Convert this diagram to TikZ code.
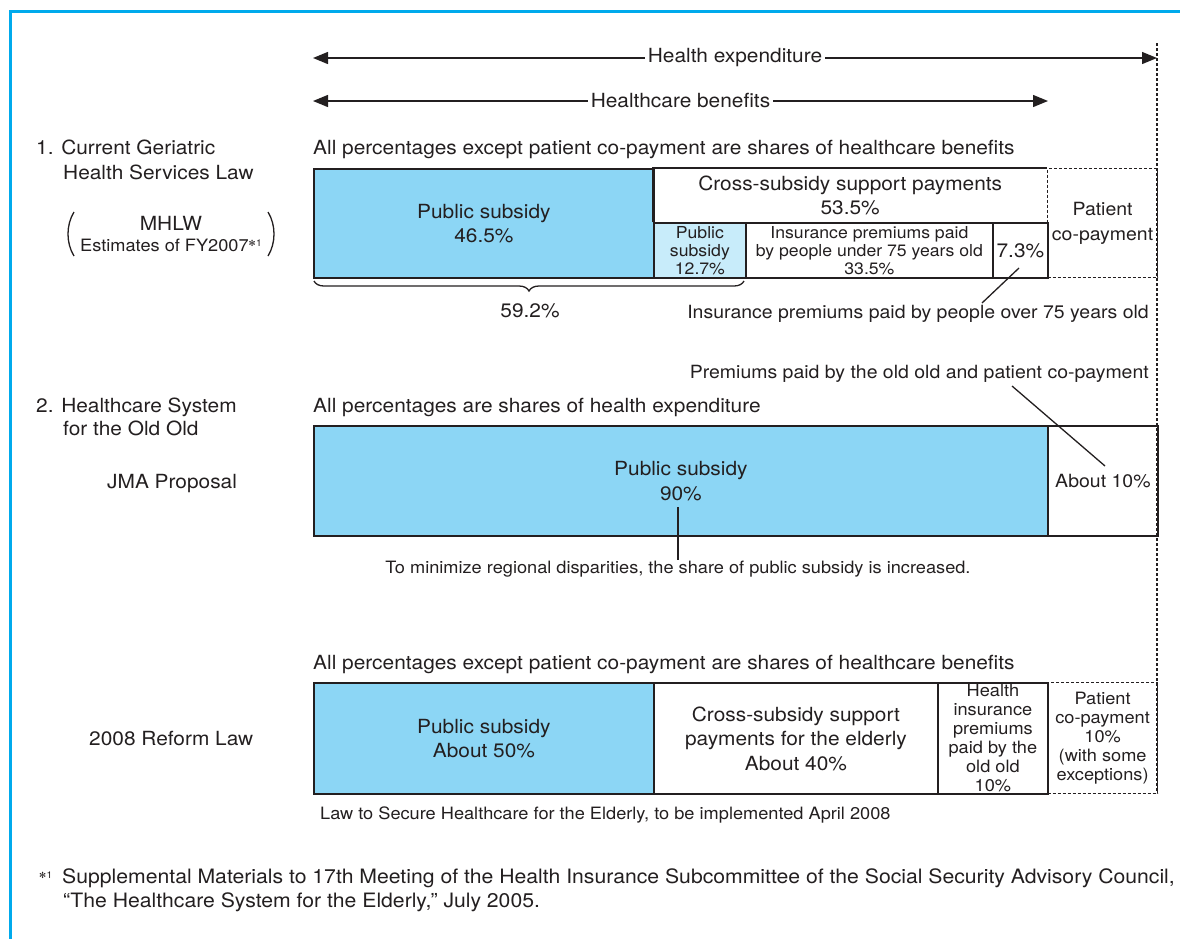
\documentclass[tikz,border=0pt]{standalone}
\usepackage{fontspec}
\setmainfont{TeX Gyre Heros}[FakeStretch=1.07]
\newfontfamily\symfont{DejaVu Sans}
\usetikzlibrary{arrows.meta,decorations.pathreplacing}
\definecolor{frameblue}{RGB}{0,170,236}
\definecolor{subsidy}{RGB}{140,214,245}
\definecolor{subsidylight}{RGB}{200,236,250}
\definecolor{ink}{RGB}{35,31,32}
\newcommand\fsA{\fontsize{19.5}{24.5}\selectfont}
\newcommand\fsB{\fontsize{16.5}{18}\selectfont}
\newcommand\fsC{\fontsize{17}{19}\selectfont}
\newcommand\fsD{\fontsize{18.2}{24.5}\selectfont}
\newcommand\noteref{\raisebox{5pt}{{\symfont\fontsize{8.5}{9}\selectfont ✻}\kern0.3pt{\fontsize{9.5}{9}\selectfont 1}}}
\begin{document}
\begin{tikzpicture}[x=1pt,y=-1pt,
  every node/.style={text=ink, inner sep=0pt, font=\fsA},
  bar/.style={draw=ink, line width=1.8pt, anchor=north west, align=center, inner sep=0pt},
  dashbar/.style={draw=ink, line width=1.2pt, dash pattern=on 3pt off 2pt, anchor=north west, align=center, inner sep=0pt},
  label/.style={anchor=base west},
  dimarrow/.style={draw=ink, line width=1.3pt, {Triangle[length=15pt,width=12pt]}-{Triangle[length=15pt,width=12pt]}},
  leader/.style={draw=ink, line width=1.3pt},
  guide/.style={draw=ink, line width=1.3pt, dash pattern=on 3pt off 2pt}]

\useasboundingbox (0,0) rectangle (1180,938);

% outer frame
\draw[frameblue, line width=3pt] (10,945) -- (10,11.5) -- (1190,11.5);

% dimension arrows
\coordinate (heL) at (313,58);
\coordinate (heR) at (1157,58);
\coordinate (hbL) at (313,101);
\coordinate (hbR) at (1048,101);
\draw[dimarrow] (heL) -- (heR) node[midway, fill=white, inner xsep=3pt, inner ysep=2pt] (helab) {Health expenditure};
\draw[dimarrow] (hbL) -- (hbR) node[midway, fill=white, inner xsep=3pt, inner ysep=2pt] (hblab) {Healthcare benefits};

% dotted right guide
\coordinate (gTop) at (1157,43);
\coordinate (gBot) at (1157,793);
\draw[guide] (gTop) -- (gBot);

% ---------- 1. Current Geriatric Health Services Law ----------
\node[label] (t1a) at (36,154) {1. Current Geriatric};
\node[label] (t1b) at (63,179) {Health Services Law};
\node[anchor=base] (mhlw) at (171,230) {MHLW};
\node[anchor=base] (est) at (171,251) {\fsC Estimates of FY2007\noteref};
\draw[leader] (74,212) .. controls (66,225) and (66,243) .. (74,256);
\draw[leader] (268,212) .. controls (276,225) and (276,243) .. (268,256);

\node[label] (cap1) at (313,154) {All percentages except patient co-payment are shares of healthcare benefits};

\node[dashbar, minimum width=110pt, minimum height=109pt, font=\fsD] (pc1) at (1047,168) {Patient\\co-payment};
\node[bar, fill=subsidy, minimum width=340pt, minimum height=109pt] (ps1) at (313,168) {Public subsidy\\46.5\%};
\node[anchor=north west, align=center, minimum width=394pt, minimum height=54pt] (cs1) at (653,168) {Cross-subsidy support payments\\53.5\%};
\draw[ink, line width=1.8pt] (cs1.south west) -- (cs1.north west) -- (cs1.north east);
\node[bar, fill=subsidylight, minimum width=92pt, minimum height=55pt, font=\fsB] (ps2) at (653,222) {Public\\subsidy\\12.7\%};
\node[bar, minimum width=247pt, minimum height=55pt, font=\fsB] (ip1) at (745,222) {Insurance premiums paid\\by people under 75 years old\\33.5\%};
\node[bar, minimum width=55pt, minimum height=55pt] (p73) at (992,222) {7.3\%};

\coordinate (brL) at (314,281);
\coordinate (brR) at (744,281);
\draw[ink, line width=1.3pt, decorate, decoration={brace, mirror, amplitude=10pt}] (brL) -- (brR);
\node[anchor=base] (sum1) at (530,317) {59.2\%};

\node[anchor=base east, font=\fsD] (over75) at (1149,318) {Insurance premiums paid by people over 75 years old};
\coordinate (l1a) at (1019,268);
\coordinate (l1b) at (982,303);
\draw[leader] (l1a) -- (l1b);

% ---------- 2. Healthcare System for the Old Old ----------
\node[anchor=base east, font=\fsD] (prem) at (1149,378) {Premiums paid by the old old and patient co-payment};
\node[label] (t2a) at (36,412) {2. Healthcare System};
\node[label] (t2b) at (63,435) {for the Old Old};
\node[label] (jma) at (107,488) {JMA Proposal};
\node[label] (cap2) at (313,412) {All percentages are shares of health expenditure};

\node[bar, fill=subsidy, minimum width=734pt, minimum height=110pt] (ps90) at (313,425) {Public subsidy\\90\%};
\node[bar, minimum width=110pt, minimum height=110pt, font=\fsD] (ab10) at (1047,425) {About 10\%};
\coordinate (l2a) at (1012,386);
\coordinate (l2b) at (1105,466);
\draw[leader] (l2a) -- (l2b);

\node[anchor=base, font=\fsC] (tomin) at (678,573) {To minimize regional disparities, the share of public subsidy is increased.};
\coordinate (l3a) at (678,507);
\draw[leader] (l3a) -- (l3a |- tomin.north);

% ---------- 2008 Reform Law ----------
\node[label] (cap3) at (313,669) {All percentages except patient co-payment are shares of healthcare benefits};
\node[label] (ref) at (89,745) {2008 Reform Law};

\node[dashbar, minimum width=110pt, minimum height=111pt, font=\fsC] (pc3) at (1047,682) {Patient\\co-payment\\10\%\\(with some\\exceptions)};
\node[bar, fill=subsidy, minimum width=340pt, minimum height=111pt] (ps3) at (313,682) {Public subsidy\\About 50\%};
\node[bar, minimum width=284pt, minimum height=111pt] (cs3) at (653,682) {Cross-subsidy support\\payments for the elderly\\About 40\%};
\node[bar, minimum width=110pt, minimum height=111pt, font=\fsC] (hi3) at (937,682) {Health\\insurance\\premiums\\paid by the\\old old\\10\%};

\node[label, font=\fsC] (law) at (320,819) {Law to Secure Healthcare for the Elderly, to be implemented April 2008};

% footnote
\node[label] (fnmark) at (39,883) {\noteref};
\node[label, font=\fontsize{19.8}{24}\selectfont] (fn1) at (62,883) {Supplemental Materials to 17th Meeting of the Health Insurance Subcommittee of the Social Security Advisory Council,};
\node[label, font=\fontsize{19.8}{24}\selectfont] (fn2) at (63,907) {“The Healthcare System for the Elderly,” July 2005.};

\end{tikzpicture}
\end{document}
